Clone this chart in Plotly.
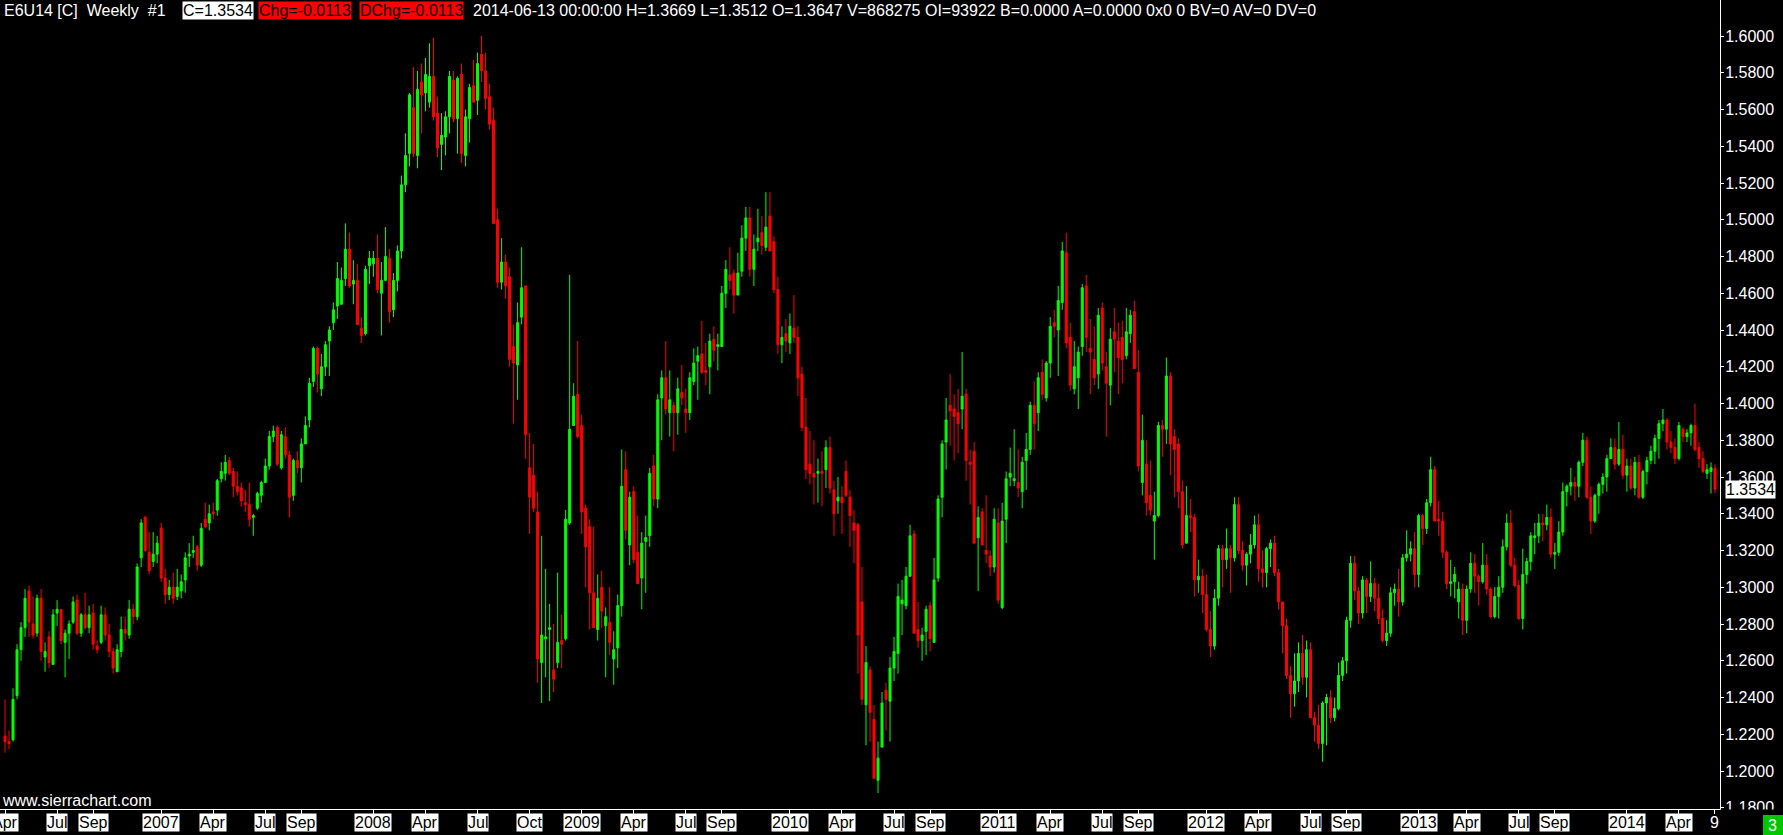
import pandas as pd
import plotly.graph_objects as go

# Weekly E6U14 continuous candles, first week 2006-04-03
start_date = "2006-04-03"

opens = [
    1.219, 1.216, 1.217, 1.241, 1.266, 1.278, 1.298, 1.280, 1.275, 1.294,
    1.262, 1.273, 1.258, 1.286, 1.288, 1.270, 1.275, 1.281, 1.293, 1.275,
    1.285, 1.278, 1.286, 1.268, 1.270, 1.285, 1.274, 1.265, 1.254, 1.265,
    1.277, 1.274, 1.288, 1.284, 1.316, 1.338, 1.319, 1.314, 1.318, 1.332,
    1.305, 1.296, 1.300, 1.295, 1.298, 1.304, 1.317, 1.319, 1.322, 1.312,
    1.337, 1.335, 1.341, 1.342, 1.359, 1.362, 1.369, 1.363, 1.355, 1.354,
    1.346, 1.345, 1.338, 1.343, 1.350, 1.357, 1.366, 1.382, 1.387, 1.365,
    1.382, 1.372, 1.350, 1.369, 1.365, 1.378, 1.391, 1.412, 1.430, 1.408,
    1.420, 1.434, 1.444, 1.453, 1.454, 1.468, 1.484, 1.465, 1.467, 1.441,
    1.438, 1.475, 1.476, 1.479, 1.460, 1.467, 1.479, 1.451, 1.467, 1.483,
    1.519, 1.536, 1.561, 1.535, 1.575, 1.569, 1.564, 1.578, 1.558, 1.541,
    1.545, 1.556, 1.576, 1.555, 1.579, 1.535, 1.555, 1.573, 1.565, 1.590,
    1.581, 1.567, 1.554, 1.500, 1.466, 1.477, 1.469, 1.431, 1.421, 1.447,
    1.464, 1.365, 1.361, 1.341, 1.259, 1.272, 1.277, 1.255, 1.259, 1.271,
    1.272, 1.335, 1.388, 1.405, 1.388, 1.343, 1.333, 1.297, 1.277, 1.300,
    1.279, 1.281, 1.261, 1.267, 1.290, 1.364, 1.323, 1.352, 1.319, 1.305,
    1.325, 1.328, 1.366, 1.348, 1.403, 1.414, 1.395, 1.399, 1.395, 1.406,
    1.397, 1.395, 1.412, 1.423, 1.427, 1.418, 1.420, 1.435, 1.431, 1.431,
    1.460, 1.470, 1.471, 1.459, 1.472, 1.490, 1.501, 1.473, 1.488, 1.493,
    1.485, 1.502, 1.488, 1.462, 1.432, 1.438, 1.433, 1.441, 1.436, 1.416,
    1.387, 1.367, 1.362, 1.362, 1.363, 1.364, 1.376, 1.353, 1.347, 1.349,
    1.363, 1.349, 1.335, 1.334, 1.292, 1.236, 1.255, 1.228, 1.195, 1.213,
    1.244, 1.238, 1.256, 1.264, 1.291, 1.290, 1.306, 1.329, 1.277, 1.271,
    1.276, 1.290, 1.270, 1.305, 1.349, 1.379, 1.399, 1.397, 1.395, 1.397,
    1.405, 1.368, 1.374, 1.327, 1.341, 1.320, 1.317, 1.311, 1.335, 1.289,
    1.337, 1.360, 1.358, 1.357, 1.352, 1.369, 1.375, 1.399, 1.395, 1.417,
    1.403, 1.422, 1.444, 1.440, 1.455, 1.482, 1.436, 1.408, 1.414, 1.431,
    1.464, 1.430, 1.424, 1.416, 1.452, 1.420, 1.410, 1.439, 1.434, 1.436,
    1.426, 1.438, 1.450, 1.417, 1.357, 1.367, 1.350, 1.336, 1.339, 1.388,
    1.386, 1.415, 1.382, 1.378, 1.352, 1.324, 1.339, 1.338, 1.304, 1.306,
    1.296, 1.277, 1.268, 1.294, 1.321, 1.315, 1.321, 1.316, 1.345, 1.320,
    1.312, 1.318, 1.323, 1.334, 1.310, 1.308, 1.321, 1.324, 1.308, 1.292,
    1.279, 1.252, 1.242, 1.249, 1.264, 1.251, 1.266, 1.229, 1.225, 1.215,
    1.237, 1.240, 1.229, 1.234, 1.252, 1.260, 1.282, 1.313, 1.298, 1.286,
    1.304, 1.295, 1.302, 1.294, 1.283, 1.271, 1.275, 1.297, 1.299, 1.292,
    1.316, 1.318, 1.321, 1.307, 1.339, 1.332, 1.346, 1.364, 1.337, 1.336,
    1.319, 1.302, 1.303, 1.292, 1.299, 1.282, 1.299, 1.313, 1.306, 1.303,
    1.312, 1.299, 1.284, 1.295, 1.300, 1.322, 1.335, 1.312, 1.301, 1.283,
    1.307, 1.314, 1.327, 1.328, 1.335, 1.334, 1.338, 1.318, 1.319, 1.330,
    1.352, 1.355, 1.357, 1.355, 1.368, 1.380, 1.349, 1.336, 1.350, 1.356,
    1.360, 1.370, 1.376, 1.367, 1.375, 1.361, 1.366, 1.354, 1.368, 1.349,
    1.363, 1.369, 1.374, 1.381, 1.389, 1.391, 1.379, 1.376, 1.370, 1.386,
    1.382, 1.384, 1.388, 1.376, 1.370, 1.362, 1.363, 1.3647,
]

highs = [
    1.239, 1.222, 1.245, 1.269, 1.281, 1.299, 1.301, 1.295, 1.296, 1.299,
    1.270, 1.276, 1.288, 1.293, 1.288, 1.277, 1.282, 1.295, 1.296, 1.286,
    1.297, 1.290, 1.291, 1.271, 1.290, 1.289, 1.280, 1.267, 1.269, 1.284,
    1.284, 1.293, 1.291, 1.313, 1.337, 1.339, 1.330, 1.330, 1.328, 1.335,
    1.310, 1.304, 1.308, 1.310, 1.307, 1.319, 1.324, 1.328, 1.323, 1.335,
    1.346, 1.345, 1.346, 1.359, 1.368, 1.372, 1.371, 1.365, 1.363, 1.357,
    1.353, 1.357, 1.340, 1.352, 1.358, 1.370, 1.385, 1.388, 1.388, 1.385,
    1.387, 1.374, 1.370, 1.374, 1.381, 1.393, 1.414, 1.431, 1.431, 1.427,
    1.434, 1.442, 1.455, 1.477, 1.474, 1.498, 1.493, 1.478, 1.476, 1.447,
    1.475, 1.483, 1.483, 1.492, 1.477, 1.496, 1.484, 1.471, 1.486, 1.524,
    1.547, 1.569, 1.583, 1.581, 1.585, 1.588, 1.596, 1.599, 1.567, 1.558,
    1.559, 1.581, 1.581, 1.578, 1.585, 1.560, 1.574, 1.587, 1.591, 1.600,
    1.591, 1.574, 1.561, 1.506, 1.490, 1.481, 1.474, 1.443, 1.455, 1.485,
    1.464, 1.384, 1.378, 1.352, 1.328, 1.310, 1.291, 1.280, 1.308, 1.285,
    1.342, 1.470, 1.411, 1.434, 1.394, 1.345, 1.337, 1.333, 1.307, 1.309,
    1.289, 1.300, 1.276, 1.296, 1.375, 1.374, 1.352, 1.355, 1.339, 1.330,
    1.339, 1.365, 1.372, 1.405, 1.418, 1.434, 1.418, 1.401, 1.414, 1.421,
    1.408, 1.417, 1.430, 1.431, 1.445, 1.433, 1.438, 1.442, 1.438, 1.464,
    1.478, 1.485, 1.473, 1.482, 1.497, 1.507, 1.507, 1.492, 1.506, 1.502,
    1.515, 1.515, 1.491, 1.469, 1.442, 1.446, 1.449, 1.459, 1.442, 1.420,
    1.403, 1.385, 1.380, 1.370, 1.374, 1.380, 1.382, 1.358, 1.360, 1.355,
    1.369, 1.353, 1.342, 1.335, 1.311, 1.268, 1.257, 1.236, 1.216, 1.243,
    1.248, 1.262, 1.273, 1.302, 1.304, 1.311, 1.334, 1.331, 1.292, 1.278,
    1.290, 1.292, 1.316, 1.350, 1.380, 1.403, 1.416, 1.405, 1.408, 1.428,
    1.408, 1.375, 1.379, 1.344, 1.343, 1.350, 1.320, 1.343, 1.343, 1.346,
    1.363, 1.376, 1.386, 1.375, 1.371, 1.384, 1.401, 1.412, 1.417, 1.424,
    1.423, 1.447, 1.451, 1.464, 1.488, 1.493, 1.444, 1.434, 1.431, 1.465,
    1.470, 1.446, 1.442, 1.452, 1.455, 1.428, 1.441, 1.452, 1.444, 1.445,
    1.452, 1.451, 1.456, 1.429, 1.394, 1.380, 1.369, 1.352, 1.390, 1.391,
    1.425, 1.417, 1.386, 1.381, 1.358, 1.355, 1.348, 1.340, 1.315, 1.310,
    1.307, 1.287, 1.299, 1.323, 1.323, 1.332, 1.323, 1.349, 1.349, 1.325,
    1.319, 1.329, 1.339, 1.340, 1.320, 1.322, 1.326, 1.328, 1.310, 1.292,
    1.283, 1.257, 1.264, 1.270, 1.274, 1.271, 1.270, 1.232, 1.236, 1.238,
    1.242, 1.244, 1.240, 1.259, 1.262, 1.284, 1.317, 1.317, 1.300, 1.306,
    1.305, 1.314, 1.305, 1.302, 1.288, 1.282, 1.300, 1.302, 1.310, 1.318,
    1.331, 1.325, 1.330, 1.340, 1.340, 1.348, 1.371, 1.366, 1.347, 1.341,
    1.320, 1.315, 1.311, 1.303, 1.302, 1.301, 1.319, 1.318, 1.307, 1.324,
    1.318, 1.300, 1.300, 1.306, 1.326, 1.340, 1.342, 1.316, 1.304, 1.321,
    1.316, 1.330, 1.335, 1.340, 1.340, 1.345, 1.343, 1.324, 1.336, 1.357,
    1.356, 1.365, 1.360, 1.369, 1.384, 1.382, 1.355, 1.351, 1.357, 1.362,
    1.372, 1.381, 1.381, 1.390, 1.383, 1.370, 1.370, 1.371, 1.372, 1.364,
    1.371, 1.377, 1.383, 1.391, 1.397, 1.392, 1.385, 1.381, 1.390, 1.387,
    1.386, 1.389, 1.400, 1.379, 1.374, 1.367, 1.368, 1.3669,
]

lows = [
    1.210, 1.212, 1.216, 1.239, 1.260, 1.273, 1.273, 1.272, 1.273, 1.260,
    1.254, 1.256, 1.258, 1.279, 1.269, 1.251, 1.261, 1.280, 1.274, 1.273,
    1.277, 1.275, 1.266, 1.264, 1.269, 1.271, 1.262, 1.253, 1.254, 1.262,
    1.271, 1.272, 1.280, 1.282, 1.311, 1.319, 1.307, 1.311, 1.313, 1.303,
    1.291, 1.293, 1.291, 1.293, 1.294, 1.297, 1.311, 1.316, 1.309, 1.311,
    1.332, 1.331, 1.337, 1.339, 1.357, 1.358, 1.361, 1.349, 1.350, 1.344,
    1.341, 1.333, 1.328, 1.342, 1.346, 1.357, 1.364, 1.379, 1.366, 1.364,
    1.370, 1.338, 1.347, 1.362, 1.357, 1.378, 1.387, 1.409, 1.406, 1.404,
    1.415, 1.415, 1.440, 1.446, 1.454, 1.464, 1.463, 1.454, 1.443, 1.433,
    1.437, 1.465, 1.469, 1.460, 1.437, 1.467, 1.444, 1.447, 1.461, 1.479,
    1.515, 1.529, 1.534, 1.528, 1.547, 1.559, 1.561, 1.554, 1.534, 1.527,
    1.535, 1.547, 1.553, 1.536, 1.531, 1.529, 1.542, 1.564, 1.557, 1.575,
    1.560, 1.549, 1.498, 1.463, 1.462, 1.457, 1.420, 1.389, 1.402, 1.443,
    1.370, 1.329, 1.341, 1.248, 1.237, 1.251, 1.238, 1.243, 1.256, 1.256,
    1.271, 1.334, 1.388, 1.381, 1.329, 1.300, 1.277, 1.278, 1.271, 1.278,
    1.251, 1.263, 1.247, 1.256, 1.284, 1.326, 1.312, 1.313, 1.302, 1.288,
    1.297, 1.322, 1.344, 1.343, 1.380, 1.394, 1.382, 1.374, 1.383, 1.399,
    1.384, 1.391, 1.410, 1.402, 1.416, 1.410, 1.405, 1.423, 1.418, 1.431,
    1.452, 1.462, 1.449, 1.459, 1.469, 1.483, 1.469, 1.464, 1.483, 1.481,
    1.483, 1.483, 1.460, 1.427, 1.422, 1.428, 1.427, 1.433, 1.404, 1.385,
    1.359, 1.356, 1.345, 1.346, 1.344, 1.354, 1.351, 1.328, 1.340, 1.329,
    1.349, 1.322, 1.313, 1.253, 1.236, 1.214, 1.216, 1.196, 1.188, 1.213,
    1.222, 1.216, 1.249, 1.253, 1.274, 1.288, 1.306, 1.275, 1.267, 1.260,
    1.263, 1.265, 1.270, 1.303, 1.338, 1.364, 1.377, 1.369, 1.373, 1.386,
    1.358, 1.345, 1.324, 1.298, 1.323, 1.313, 1.306, 1.308, 1.291, 1.288,
    1.324, 1.355, 1.355, 1.349, 1.343, 1.353, 1.372, 1.375, 1.385, 1.402,
    1.401, 1.414, 1.436, 1.415, 1.451, 1.430, 1.407, 1.405, 1.397, 1.426,
    1.428, 1.405, 1.410, 1.408, 1.418, 1.382, 1.399, 1.417, 1.405, 1.411,
    1.424, 1.433, 1.419, 1.363, 1.350, 1.339, 1.339, 1.315, 1.338, 1.371,
    1.378, 1.361, 1.349, 1.343, 1.321, 1.324, 1.330, 1.295, 1.297, 1.286,
    1.276, 1.262, 1.266, 1.290, 1.300, 1.310, 1.297, 1.314, 1.318, 1.309,
    1.301, 1.313, 1.321, 1.303, 1.300, 1.300, 1.311, 1.306, 1.288, 1.264,
    1.250, 1.229, 1.235, 1.243, 1.247, 1.240, 1.229, 1.216, 1.212, 1.205,
    1.214, 1.226, 1.227, 1.233, 1.249, 1.253, 1.278, 1.293, 1.280, 1.283,
    1.286, 1.292, 1.287, 1.280, 1.270, 1.268, 1.273, 1.290, 1.284, 1.290,
    1.314, 1.314, 1.300, 1.300, 1.323, 1.329, 1.344, 1.336, 1.328, 1.316,
    1.299, 1.295, 1.294, 1.283, 1.274, 1.275, 1.297, 1.297, 1.290, 1.302,
    1.296, 1.283, 1.283, 1.283, 1.297, 1.320, 1.311, 1.300, 1.282, 1.277,
    1.302, 1.309, 1.318, 1.324, 1.325, 1.331, 1.316, 1.310, 1.317, 1.328,
    1.344, 1.350, 1.347, 1.349, 1.366, 1.348, 1.329, 1.335, 1.340, 1.351,
    1.352, 1.370, 1.364, 1.366, 1.359, 1.352, 1.353, 1.350, 1.348, 1.348,
    1.356, 1.367, 1.367, 1.370, 1.385, 1.375, 1.373, 1.367, 1.369, 1.379,
    1.379, 1.377, 1.374, 1.365, 1.362, 1.359, 1.351, 1.3512,
]

closes = [
    1.216, 1.215, 1.239, 1.266, 1.278, 1.294, 1.281, 1.274, 1.294, 1.265,
    1.265, 1.259, 1.285, 1.288, 1.271, 1.275, 1.280, 1.292, 1.275, 1.285,
    1.278, 1.285, 1.269, 1.266, 1.285, 1.274, 1.265, 1.256, 1.266, 1.277,
    1.275, 1.288, 1.284, 1.311, 1.335, 1.320, 1.309, 1.318, 1.324, 1.305,
    1.296, 1.300, 1.294, 1.300, 1.303, 1.316, 1.318, 1.320, 1.312, 1.332,
    1.333, 1.340, 1.340, 1.358, 1.363, 1.368, 1.362, 1.355, 1.352, 1.347,
    1.345, 1.337, 1.339, 1.351, 1.357, 1.366, 1.382, 1.385, 1.367, 1.383,
    1.372, 1.349, 1.369, 1.365, 1.378, 1.388, 1.411, 1.430, 1.416, 1.420,
    1.432, 1.440, 1.451, 1.468, 1.467, 1.484, 1.464, 1.467, 1.443, 1.437,
    1.473, 1.479, 1.479, 1.462, 1.467, 1.480, 1.450, 1.467, 1.483, 1.519,
    1.535, 1.568, 1.536, 1.571, 1.568, 1.579, 1.578, 1.556, 1.539, 1.546,
    1.556, 1.578, 1.555, 1.577, 1.536, 1.556, 1.572, 1.564, 1.585, 1.581,
    1.566, 1.552, 1.498, 1.466, 1.477, 1.464, 1.424, 1.422, 1.444, 1.463,
    1.383, 1.349, 1.343, 1.261, 1.274, 1.273, 1.278, 1.250, 1.270, 1.269,
    1.337, 1.386, 1.404, 1.382, 1.341, 1.322, 1.297, 1.278, 1.294, 1.287,
    1.284, 1.270, 1.266, 1.290, 1.355, 1.331, 1.349, 1.315, 1.302, 1.324,
    1.327, 1.362, 1.348, 1.402, 1.414, 1.397, 1.402, 1.395, 1.408, 1.403,
    1.395, 1.414, 1.422, 1.426, 1.417, 1.417, 1.434, 1.429, 1.432, 1.460,
    1.473, 1.467, 1.459, 1.471, 1.490, 1.501, 1.473, 1.484, 1.490, 1.486,
    1.496, 1.483, 1.462, 1.432, 1.436, 1.434, 1.442, 1.436, 1.414, 1.387,
    1.364, 1.362, 1.360, 1.363, 1.362, 1.376, 1.354, 1.340, 1.349, 1.346,
    1.350, 1.339, 1.331, 1.274, 1.239, 1.259, 1.232, 1.196, 1.207, 1.237,
    1.239, 1.256, 1.265, 1.295, 1.293, 1.306, 1.328, 1.275, 1.271, 1.274,
    1.288, 1.272, 1.304, 1.348, 1.378, 1.391, 1.396, 1.393, 1.389, 1.404,
    1.369, 1.367, 1.324, 1.338, 1.323, 1.318, 1.311, 1.337, 1.293, 1.336,
    1.359, 1.362, 1.359, 1.354, 1.368, 1.375, 1.399, 1.389, 1.414, 1.405,
    1.422, 1.442, 1.442, 1.456, 1.483, 1.433, 1.410, 1.420, 1.428, 1.463,
    1.436, 1.428, 1.414, 1.448, 1.422, 1.411, 1.435, 1.435, 1.425, 1.424,
    1.439, 1.448, 1.419, 1.366, 1.380, 1.346, 1.342, 1.339, 1.388, 1.386,
    1.415, 1.378, 1.375, 1.352, 1.323, 1.339, 1.338, 1.304, 1.306, 1.296,
    1.277, 1.268, 1.294, 1.321, 1.315, 1.321, 1.316, 1.345, 1.320, 1.312,
    1.318, 1.323, 1.334, 1.310, 1.308, 1.321, 1.324, 1.308, 1.292, 1.279,
    1.252, 1.242, 1.249, 1.264, 1.251, 1.266, 1.229, 1.225, 1.215, 1.237,
    1.240, 1.229, 1.234, 1.252, 1.260, 1.282, 1.313, 1.298, 1.286, 1.304,
    1.295, 1.302, 1.294, 1.283, 1.271, 1.275, 1.297, 1.299, 1.292, 1.316,
    1.318, 1.321, 1.307, 1.339, 1.332, 1.346, 1.364, 1.336, 1.336, 1.319,
    1.302, 1.303, 1.307, 1.299, 1.282, 1.299, 1.313, 1.306, 1.303, 1.312,
    1.299, 1.284, 1.295, 1.300, 1.322, 1.335, 1.312, 1.301, 1.283, 1.307,
    1.314, 1.328, 1.328, 1.335, 1.334, 1.338, 1.318, 1.319, 1.330, 1.352,
    1.355, 1.357, 1.355, 1.368, 1.380, 1.349, 1.336, 1.350, 1.356, 1.360,
    1.370, 1.376, 1.367, 1.375, 1.361, 1.366, 1.354, 1.368, 1.349, 1.363,
    1.369, 1.374, 1.381, 1.389, 1.391, 1.379, 1.376, 1.370, 1.388, 1.382,
    1.384, 1.388, 1.375, 1.370, 1.363, 1.364, 1.365, 1.3534,
]

# Axis labels
y_ticks = [1.18, 1.20, 1.22, 1.24, 1.26, 1.28, 1.30, 1.32, 1.34, 1.36, 1.38,
           1.40, 1.42, 1.44, 1.46, 1.48, 1.50, 1.52, 1.54, 1.56, 1.58, 1.60]
tick_months = ["2006-04", "2006-07", "2006-09", "2007-01", "2007-04", "2007-07", "2007-09",
               "2008-01", "2008-04", "2008-07", "2008-10", "2009-01", "2009-04", "2009-07",
               "2009-09", "2010-01", "2010-04", "2010-07", "2010-09", "2011-01", "2011-04",
               "2011-07", "2011-09", "2012-01", "2012-04", "2012-07", "2012-09", "2013-01",
               "2013-04", "2013-07", "2013-09", "2014-01", "2014-04"]
tick_labels = ["Apr", "Jul", "Sep", "2007", "Apr", "Jul", "Sep",
               "2008", "Apr", "Jul", "Oct", "2009", "Apr", "Jul",
               "Sep", "2010", "Apr", "Jul", "Sep", "2011", "Apr",
               "Jul", "Sep", "2012", "Apr", "Jul", "Sep", "2013",
               "Apr", "Jul", "Sep", "2014", "Apr"]
last_label = "9"

header_title = "E6U14 [C]\u00a0\u00a0Weekly\u00a0\u00a0#1"
header_close = "C=1.3534"
header_chg = "Chg=-0.0113"
header_dchg = "DChg=-0.0113"
header_info = ("2014-06-13 00:00:00 H=1.3669 L=1.3512 O=1.3647 V=868275 OI=93922 "
               "B=0.0000 A=0.0000 0x0 0 BV=0 AV=0 DV=0")
watermark = "www.sierrachart.com"
last_price_label = "1.3534"

assert len(opens) == len(highs) == len(lows) == len(closes)

dates = pd.date_range(start_date, periods=len(closes), freq="7D")
week = pd.Timedelta(days=7)

W, H = 1783, 835
PL, PR, PT, PB = 0, 1720, 0, 809  # plot box in pixels
pw, ph = PR - PL, PB - PT
FONT = "Liberation Sans, Arial, sans-serif"

fig = go.Figure()
fig.add_trace(go.Candlestick(
    x=dates, open=opens, high=highs, low=lows, close=closes,
    increasing=dict(line=dict(color="#00FF00", width=1), fillcolor="#00FF00"),
    decreasing=dict(line=dict(color="#FF0000", width=1), fillcolor="#FF0000"),
    whiskerwidth=0, hoverinfo="skip", showlegend=False,
))

tick_dates = []
for m in tick_months:
    sel = dates[dates.strftime("%Y-%m") == m]
    tick_dates.append(sel[0])

annotations = []
for d, lab in zip(tick_dates, tick_labels):
    annotations.append(dict(
        x=d, xref="x", y=0, yref="paper", yanchor="top", xanchor="center",
        yshift=-4, text=lab, showarrow=False, bgcolor="white", borderpad=0,
        font=dict(family=FONT, size=16, color="black")))
annotations.append(dict(
    x=dates[-1], xref="x", y=0, yref="paper", yanchor="top", xanchor="center",
    yshift=-4, text=last_label, showarrow=False, borderpad=0,
    font=dict(family=FONT, size=16, color="white")))


def px_x(x):
    return (x - PL) / pw


def px_y(y):
    return (PB - y) / ph


header_parts = [
    (3, header_title, "white", None),
    (182, header_close, "black", "white"),
    (258, header_chg, "black", "#FF0000"),
    (359, header_dchg, "black", "#FF0000"),
    (472, header_info, "white", None),
]
for xp, txt, col, bg in header_parts:
    a = dict(x=px_x(xp), xref="paper", y=px_y(1), yref="paper", xanchor="left",
             yanchor="top", text=txt, showarrow=False, borderpad=0,
             font=dict(family=FONT, size=16, color=col))
    if bg:
        a["bgcolor"] = bg
    annotations.append(a)

annotations.append(dict(
    x=px_x(0), xref="paper", y=px_y(800), yref="paper", xanchor="left",
    yanchor="middle", text=watermark, showarrow=False,
    font=dict(family=FONT, size=16, color="white")))

annotations.append(dict(
    x=1, xref="paper", xshift=5, y=closes[-1], yref="y", xanchor="left",
    yanchor="middle", text=last_price_label, showarrow=False, bgcolor="white",
    borderpad=0, font=dict(family=FONT, size=16, color="black")))

annotations.append(dict(
    x=px_x(1773), xref="paper", y=px_y(825), yref="paper", xanchor="center",
    yanchor="middle", text="3", showarrow=False,
    font=dict(family=FONT, size=16, color="white")))

shapes = [
    dict(type="rect", xref="paper", yref="paper", x0=px_x(1720.5), x1=px_x(1790),
         y0=px_y(840), y1=px_y(809.6), fillcolor="black", line=dict(width=0),
         layer="above"),
    dict(type="rect", xref="paper", yref="paper", x0=px_x(1763), x1=px_x(1783),
         y0=px_y(835), y1=px_y(815), fillcolor="#00C800", line=dict(width=0),
         layer="above"),
]

# price scale: 1.2000 at y=771px, 0.02 per 36.75 px
ppp = 0.02 / 36.75
y_bottom = 1.2 - (PB - 771) * ppp
y_top = 1.2 + (771 - PT) * ppp

fig.update_layout(
    width=W, height=H, autosize=False,
    margin=dict(l=PL, r=W - PR, t=PT, b=H - PB, pad=0),
    paper_bgcolor="black", plot_bgcolor="black",
    showlegend=False, boxgap=0.5, boxgroupgap=0,
    annotations=annotations, shapes=shapes,
    xaxis=dict(
        range=[dates[0] - 1.25 * week, dates[-1] + 1.25 * week],
        rangeslider=dict(visible=False), showgrid=False, zeroline=False,
        showline=True, linecolor="white", linewidth=1,
        ticks="outside", ticklen=4, tickcolor="white", tickwidth=1,
        tickvals=tick_dates + [dates[-1]], showticklabels=False,
    ),
    yaxis=dict(
        range=[y_bottom, y_top], side="right", showgrid=False, zeroline=False,
        showline=True, linecolor="white", linewidth=1,
        ticks="outside", ticklen=3, tickcolor="white", tickwidth=1,
        tickvals=y_ticks, tickformat=".4f", ticklabelstandoff=-2,
        tickfont=dict(family=FONT, size=16, color="white"),
    ),
)

fig.write_html(
    "out.html",
    config={"displayModeBar": False, "staticPlot": True},
    post_script="document.body.style.margin='0';document.body.style.background='black';",
)
